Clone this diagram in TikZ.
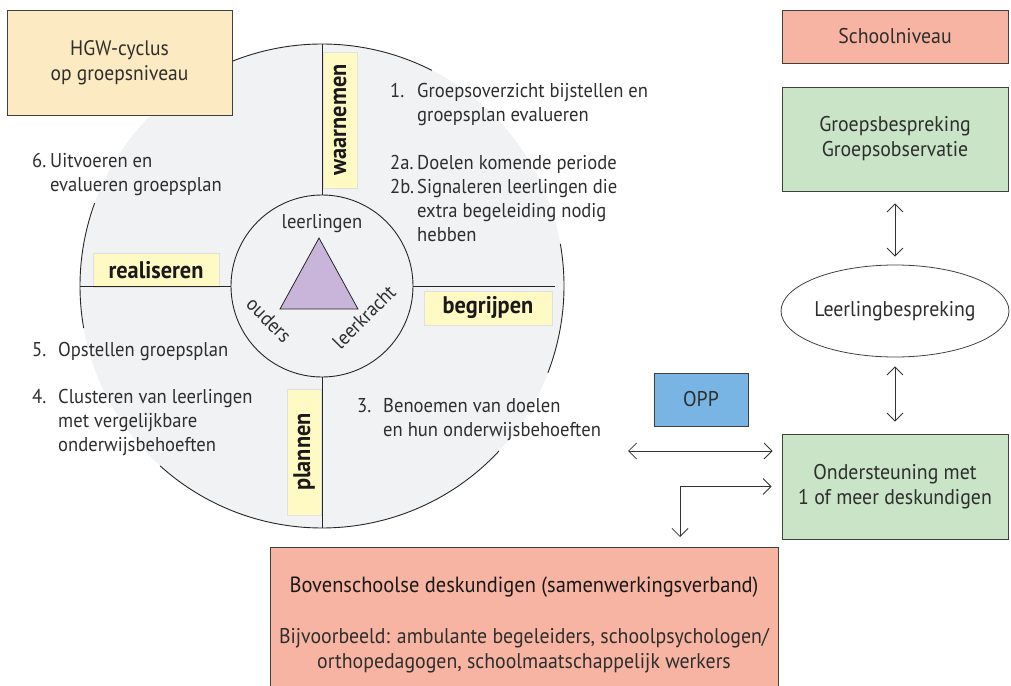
\documentclass[tikz,border=0pt]{standalone}
\usepackage{fontspec}
\setmainfont{PT Sans}[FakeStretch=0.93]
\usetikzlibrary{positioning,calc,shapes.geometric,arrows.meta}

\definecolor{kringgrijs}{HTML}{F1F2F4}
\definecolor{fasegeel}{HTML}{FFF9C4}
\definecolor{hgwgeel}{HTML}{FCEBC2}
\definecolor{schoolrood}{HTML}{F8B4A2}
\definecolor{zorggroen}{HTML}{C9E4C6}
\definecolor{oppblauw}{HTML}{78B5E4}
\definecolor{lila}{HTML}{C9B5DA}
\definecolor{tekstgrijs}{HTML}{2E2E2E}

\tikzset{
  vak/.style={draw=black!75, line width=0.8pt, align=center, inner sep=0pt,
              font=\fontsize{21.3}{25}\selectfont, text=tekstgrijs},
  fase/.style={fill=fasegeel, draw=black!12, line width=0.6pt, inner sep=0pt,
                minimum height=34pt, font=\fontsize{24}{28}\selectfont\bfseries, text=black!90},
  stap/.style={anchor=base west, inner sep=0pt, font=\fontsize{20}{24}\selectfont, text=tekstgrijs},
  kringtekst/.style={inner sep=0pt, font=\fontsize{20}{24}\selectfont, text=tekstgrijs},
  pijl/.style={{Straight Barb[length=8pt,width=16pt]}-{Straight Barb[length=8pt,width=16pt]},
               line width=0.8pt, draw=black!80}
}

\begin{document}
\begin{tikzpicture}[x=1pt,y=1pt,node distance=2cm,on grid]
    \useasboundingbox (0,0) rectangle (1011,-685);

    % HGW-cyclus
    \coordinate (m) at (322,-286);
    \fill[kringgrijs] (m) circle (242);
    \draw[black!85, line width=0.9pt] ($(m)+(63:242)$) arc (63:112:242);
    \draw[black!85, line width=0.9pt] ($(m)+(160:242)$) arc (160:190:242);
    \draw[black!85, line width=0.9pt] ($(m)+(-132:242)$) arc (-132:-43:242);
    \draw[black!85, line width=0.9pt] ($(m)+(-21:242)$) arc (-21:10:242);

    \node[fase, rotate=90, minimum width=136pt] (waarnemen) at (340,-120) {waarnemen};
    \node[fase, minimum width=126pt]            (realiseren) at (156,-270) {realiseren};
    \node[fase, minimum width=128pt]            (begrijpen) at (488,-308) {begrijpen};
    \node[fase, rotate=90, minimum width=126pt] (plannen) at (304,-452) {plannen};

    \node[circle, draw=black!85, line width=0.9pt, minimum size=182pt, inner sep=0pt] (kring) at (m) {};
    \draw[black!85, line width=0.9pt] (kring.north) -- ($(m)+(0,242)$);
    \draw[black!85, line width=0.9pt] (kring.south) -- ($(m)+(0,-242)$);
    \draw[black!85, line width=0.9pt] (kring.west) -- ($(m)+(-242,0)$);
    \draw[black!85, line width=0.9pt] (kring.east) -- (555,-286);

    \filldraw[fill=lila, draw=black!85, line width=0.8pt] (319,-238) -- (280,-309) -- (358,-309) -- cycle;
    \node[kringtekst]            (leerlingen) at (322,-224) {leerlingen};
    \node[kringtekst, rotate=-45] (ouders) at (269,-320) {ouders};
    \node[kringtekst, rotate=45]  (leerkracht) at (364,-317) {leerkracht};

    \node[vak, fill=hgwgeel, minimum width=225pt, minimum height=105pt,
          font=\fontsize{21}{25}\selectfont] (hgw) at (119.5,-62.5) {HGW-cyclus\\op groepsniveau};

    % stappen
    \node[stap] (stap1) at (390,-97) {\begin{tabular}[t]{@{}p{27pt}@{}l@{}}
        1. & Groepsoverzicht bijstellen en\\ & groepsplan evalueren\end{tabular}};
    \node[stap] (stap2) at (390,-169) {\begin{tabular}[t]{@{}p{27pt}@{}l@{}}
        2a. & Doelen komende periode\\ 2b. & Signaleren leerlingen die\\
        & extra begeleiding nodig\\ & hebben\end{tabular}};
    \node[stap] (stap3) at (357,-412) {\begin{tabular}[t]{@{}p{26pt}@{}l@{}}
        3. & Benoemen van doelen\\ & en hun onderwijsbehoeften\end{tabular}};
    \node[stap] (stap4) at (32,-403) {\begin{tabular}[t]{@{}p{26pt}@{}l@{}}
        4. & Clusteren van leerlingen\\ & met vergelijkbare\\ & onderwijsbehoeften\end{tabular}};
    \node[stap] (stap5) at (32,-356) {\begin{tabular}[t]{@{}p{26pt}@{}l@{}}
        5. & Opstellen groepsplan\end{tabular}};
    \node[stap] (stap6) at (32,-167) {\begin{tabular}[t]{@{}p{18pt}@{}l@{}}
        6. & Uitvoeren en\\ & evalueren groepsplan\end{tabular}};

    % schoolniveau
    \node[vak, fill=schoolrood, minimum width=226pt, minimum height=53pt] (school) at (895,-36.5) {Schoolniveau};
    \node[vak, fill=zorggroen, minimum width=226pt, minimum height=104pt] (groeps) [below=102.5pt of school]
        {Groepsbespreking\\Groepsobservatie};
    \node[vak, ellipse, minimum width=219pt, minimum height=92pt] (lb) [below=172pt of groeps] {Leerlingbespreking};
    \node[vak, fill=zorggroen, minimum width=226pt, minimum height=105pt] (onder) [below=175.5pt of lb]
        {Ondersteuning met\\1 of meer deskundigen};
    \node[vak, fill=oppblauw, minimum width=94pt, minimum height=53pt] (opp) at (701,-399.5) {OPP};

    \node[vak, fill=schoolrood, anchor=north, minimum width=508pt, minimum height=160pt] (bovens) at (524,-547) {};
    \node[kringtekst, anchor=base, text=black!90, font=\fontsize{22}{26}\selectfont] (bovens-titel) at (524,-592)
        {Bovenschoolse deskundigen (samenwerkingsverband)};
    \node[kringtekst, anchor=base, font=\fontsize{21.3}{25}\selectfont] (bovens-tekst) at (524,-643)
        {\begin{tabular}[t]{@{}c@{}}
        Bijvoorbeeld: ambulante begeleiders, schoolpsychologen/\\
        orthopedagogen, schoolmaatschappelijk werkers\end{tabular}};

    % pijlen
    \coordinate (opp-l) at (628,-451);
    \coordinate (knik) at (680,0);
    \draw[pijl, shorten <=12pt, shorten >=8pt] (groeps) -- (lb);
    \draw[pijl, shorten <=9pt, shorten >=12pt] (lb) -- (onder);
    \draw[pijl, shorten >=9pt] (opp-l) -- (onder.west |- opp-l);
    \draw[pijl, shorten <=10pt, shorten >=10pt] (bovens.north -| knik) |- (onder.west);
\end{tikzpicture}
\end{document}
